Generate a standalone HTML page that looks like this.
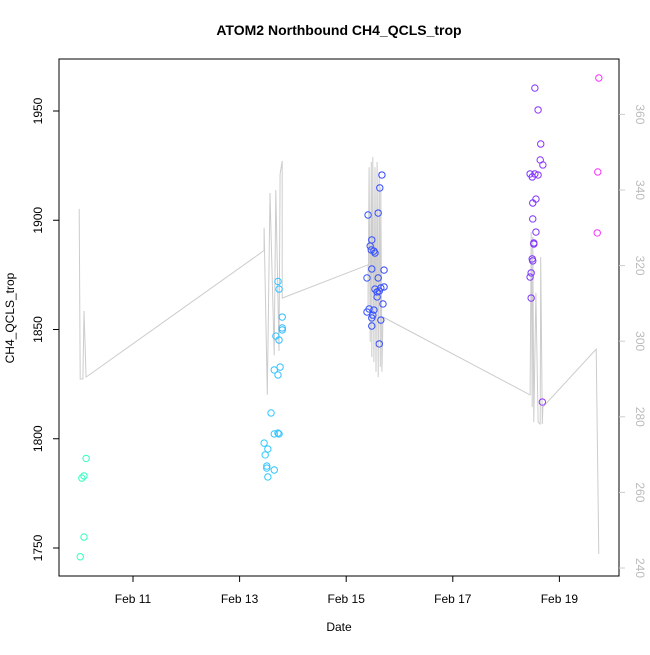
<!DOCTYPE html>
<html><head><meta charset="utf-8"><style>
body{margin:0;background:#fff;}
svg{font-family:"Liberation Sans",Arial,sans-serif;}
</style></head><body>
<svg id="chart" width="650" height="650" xmlns="http://www.w3.org/2000/svg"></svg>
<script>
const xTickLabels=["Feb 11","Feb 13","Feb 15","Feb 17","Feb 19"];
const xTickDays=[1,3,5,7,9];
const yTicks=[1750,1800,1850,1900,1950];
const y2Ticks=[240,260,280,300,320,340,360];
const pointDays=[0.01,0.08,0.04,0.08,0.12,
3.72,3.74,3.80,3.80,3.80,3.68,3.74,3.65,3.76,3.72,3.59,3.65,3.72,3.74,3.46,3.53,3.48,3.51,3.51,3.65,3.53,
5.67,5.63,5.60,5.41,5.48,5.45,5.47,5.52,5.54,5.48,5.71,5.39,5.60,5.54,5.71,5.65,5.62,5.58,5.58,5.69,5.43,5.52,5.39,5.50,5.48,5.65,5.48,5.62,
8.54,8.60,8.65,8.64,8.69,8.45,8.49,8.54,8.60,8.56,8.50,8.50,8.56,8.52,8.52,8.49,8.50,8.47,8.45,8.47,8.68,
9.74,9.72,9.71];
const pointCH4=[1746,1755,1782,1783,1791,
1872,1868.5,1855.7,1850.7,1849.8,1847,1845.2,1831.5,1832.8,1829.2,1811.8,1802.2,1802.6,1802.2,1798,1795.3,1792.6,1787.5,1786.6,1785.7,1782.5,
1920.7,1914.8,1903.3,1902.4,1891,1888.2,1886.4,1885.9,1885,1877.7,1877.2,1873.6,1873.6,1868.5,1869.5,1869,1867.6,1867.2,1864.9,1861.7,1859.4,1858.9,1858,1856.6,1855.3,1854.3,1851.6,1843.4,
1960.5,1950.5,1934.9,1927.6,1925.3,1921.2,1919.8,1921.2,1920.7,1909.7,1907.9,1900.6,1894.6,1889.6,1889.1,1882.3,1881.4,1875.9,1874,1864.4,1816.8,
1965.1,1922.1,1894.2];
const lineDays=[-0.01,0.01,0.06,0.08,0.12,3.46,3.46,3.52,3.57,3.65,3.68,3.74,3.76,3.80,3.80,
5.41,5.41,5.43,5.45,5.47,5.48,5.50,5.52,5.54,5.56,5.58,5.60,5.62,5.64,5.65,5.67,5.69,
8.45,8.47,8.49,8.50,8.52,8.56,8.60,8.64,8.65,8.68,8.69,9.69,9.74];
const lineVals=[335,290,290,308,290.5,324,330,285.8,339.2,296.3,340,297.4,344.2,347.7,311.4,
320.2,308.5,346,299.8,347.4,295.8,348.7,294.5,346,291.9,347.4,290.5,344.8,293.2,340.8,291.9,306.4,
285.8,328.9,282.6,327.6,278.6,312.8,278.6,278.1,322.3,278.1,282.6,297.9,243.7];

const L=59,R=619,T=59,B=576;
const xs=d=>79.7+d*53.3;
const ys=v=>548-(v-1750)*2.185;
const ys2=v=>568-(v-240)*3.78;
const NS="http://www.w3.org/2000/svg";
const svg=document.getElementById('chart');
function mk(tag,attrs,parent){const e=document.createElementNS(NS,tag);for(const k in attrs)e.setAttribute(k,attrs[k]);(parent||svg).appendChild(e);return e;}
function hueOf(d){const k=[[0,160],[3.7,198],[5.5,232],[8.5,262],[9.7,298]];
 for(let i=1;i<k.length;i++){if(d<=k[i][0]){const t=(d-k[i-1][0])/(k[i][0]-k[i-1][0]);return k[i-1][1]+t*(k[i][1]-k[i-1][1]);}}return 298;}

let dstr=lineDays.map((d,i)=>(i?'L':'M')+xs(d).toFixed(1)+','+ys2(lineVals[i]).toFixed(1)).join(' ');
const ln=mk('path',{d:dstr,fill:'none',stroke:'#cccccc','stroke-width':1});



pointDays.forEach((d,i)=>{
 const c=mk('circle',{cx:xs(d),cy:ys(pointCH4[i]),r:3.2,fill:'none',stroke:'hsl('+hueOf(d)+',100%,60%)','stroke-width':1});
 
 
});

const fr=mk('rect',{x:L,y:T,width:R-L,height:B-T,fill:'none',stroke:'#000','stroke-width':1});



xTickDays.forEach((d,i)=>{
 const x=xs(d);
 mk('line',{x1:x,y1:B,x2:x,y2:B+6,stroke:'#000'});
 const t=mk('text',{x:x,y:603,'font-size':12,'text-anchor':'middle'});t.textContent=xTickLabels[i];
 
 
});
yTicks.forEach(v=>{
 const y=ys(v);
 mk('line',{x1:L,y1:y,x2:L-6,y2:y,stroke:'#000'});
 const t=mk('text',{x:0,y:0,'font-size':12,'text-anchor':'middle',transform:'translate(42,'+y+') rotate(-90)'});t.textContent=v;
 
 
});
y2Ticks.forEach(v=>{
 const y=ys2(v);
 mk('line',{x1:R,y1:y,x2:R+6,y2:y,stroke:'#cccccc'});
 const t=mk('text',{x:0,y:0,'font-size':12,fill:'#bbbbbb','text-anchor':'middle',transform:'translate(636,'+y+') rotate(90)'});t.textContent=v;
 
 
});
const title=mk('text',{x:339,y:35,'font-size':14,'font-weight':'bold','text-anchor':'middle'});title.textContent='ATOM2 Northbound CH4_QCLS_trop';


const xl=mk('text',{x:339,y:631,'font-size':12,'text-anchor':'middle'});xl.textContent='Date';


const yl=mk('text',{x:0,y:0,'font-size':12,'text-anchor':'middle',transform:'translate(14,318) rotate(-90)'});yl.textContent='CH4_QCLS_trop';


</script>
</body></html>
